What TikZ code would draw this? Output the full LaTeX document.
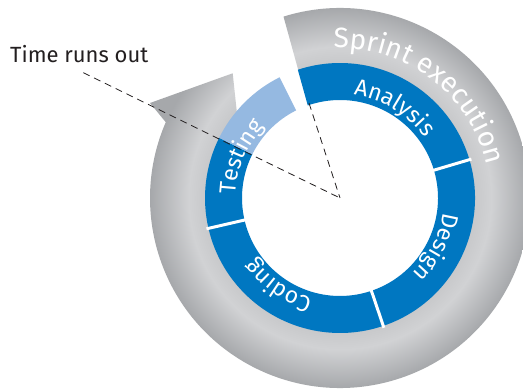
\documentclass[tikz,border=0pt]{standalone}
\usepackage{fontspec}
\setmainfont{Fira Sans}
\usetikzlibrary{decorations.text}
\definecolor{ringblue}{HTML}{0077C1}
\definecolor{lightblue}{HTML}{95B9E1}
\definecolor{graydark}{HTML}{A6A8AB}
\definecolor{graymid}{HTML}{C8C9CB}
\definecolor{graylight}{HTML}{D1D2D4}
\definecolor{inkblack}{HTML}{231F20}
\pgfdeclareradialshading{grayring}{\pgfpoint{0bp}{0bp}}{color(0bp)=(graymid); color(15.7bp)=(graymid); color(17.6bp)=(graylight); color(22.1bp)=(graydark); color(25bp)=(graydark); color(50bp)=(graydark)}
\newcommand\phasefont{\color{white}\fontsize{23}{23}\selectfont}
\newcommand\sprintfont{\color{white}\fontsize{28}{28}\selectfont}
\begin{document}
\begin{tikzpicture}[x=1pt,y=1pt,
  seg/.style={fill=ringblue},
  segl/.style={fill=lightblue},
  divider/.style={draw=white,line width=3pt},
  dashline/.style={draw=inkblack,line width=0.8pt,dash pattern=on 7pt off 5pt},
  arctext/.style={decorate,decoration={text along path,text align=center,text={#1}}}]
\useasboundingbox (0,0) rectangle (523,391);
\fill[white] (0,0) rectangle (523,391);
\coordinate (C) at (340,193);
\coordinate (barb) at (150,288);
\coordinate (tip) at (232.7,317.7);
\coordinate (t1) at (83.3,318.3);
\coordinate (t2) at (309,288);
% gray arrow ring
\begin{scope}
  \clip ([shift={(107.3:190)}]C) arc[start angle=107.3,end angle=-203.5,radius=190pt]
     -- (barb) -- (tip) -- ([shift={(143:128)}]C)
     arc[start angle=-217,end angle=108.2,radius=128pt] -- cycle;
  \shade[shading=grayring] (C) circle[radius=215pt];
\end{scope}
% blue ring segments
\path[seg] ([shift={(108.2:135)}]C) arc[start angle=108.2,end angle=16.5,radius=135pt]
  -- ([shift={(16.5:98)}]C) arc[start angle=16.5,end angle=109.2,radius=98pt] -- cycle;
\path[seg] ([shift={(16.5:135)}]C) arc[start angle=16.5,end angle=-71.3,radius=135pt]
  -- ([shift={(-71.3:98)}]C) arc[start angle=-71.3,end angle=16.5,radius=98pt] -- cycle;
\path[seg] ([shift={(-71.3:135)}]C) arc[start angle=-71.3,end angle=-167,radius=135pt]
  -- ([shift={(-167:98)}]C) arc[start angle=-167,end angle=-71.3,radius=98pt] -- cycle;
\path[seg] ([shift={(193:135)}]C) arc[start angle=193,end angle=153.5,radius=135pt]
  -- ([shift={(153.5:98)}]C) arc[start angle=153.5,end angle=193,radius=98pt] -- cycle;
\path[segl] ([shift={(153.5:135)}]C) arc[start angle=153.5,end angle=116.6,radius=135pt]
  -- ([shift={(116.6:98)}]C) arc[start angle=116.6,end angle=153.5,radius=98pt] -- cycle;
% dividers
\draw[divider] ([shift={(16.5:96)}]C) -- ([shift={(16.5:137)}]C);
\draw[divider] ([shift={(-71.3:96)}]C) -- ([shift={(-71.3:137)}]C);
\draw[divider] ([shift={(193:96)}]C) -- ([shift={(193:137)}]C);
% texts along arcs
\path[arctext={|\sprintfont|Sprint execution}] ([shift={(110:150)}]C) arc[start angle=110,end angle=-5,radius=150pt];
\path[arctext={|\phasefont|Analysis}] ([shift={(90:104)}]C) arc[start angle=90,end angle=28,radius=104pt];
\path[arctext={|\phasefont|Design}] ([shift={(-2:104)}]C) arc[start angle=-2,end angle=-52,radius=104pt];
\path[arctext={|\phasefont|Coding}] ([shift={(-100:104)}]C) arc[start angle=-100,end angle=-150,radius=104pt];
\path[arctext={|\phasefont|Testing}] ([shift={(185:104)}]C) arc[start angle=185,end angle=130,radius=104pt];
% label and dashed lines
\node[anchor=base west,inner sep=0pt,font=\fontsize{22}{22}\selectfont,text=inkblack] (lbl) at (10,328) {Time runs out};
\draw[dashline] (t1) -- (C);
\draw[dashline] (t2) -- (C);
\end{tikzpicture}
\end{document}
